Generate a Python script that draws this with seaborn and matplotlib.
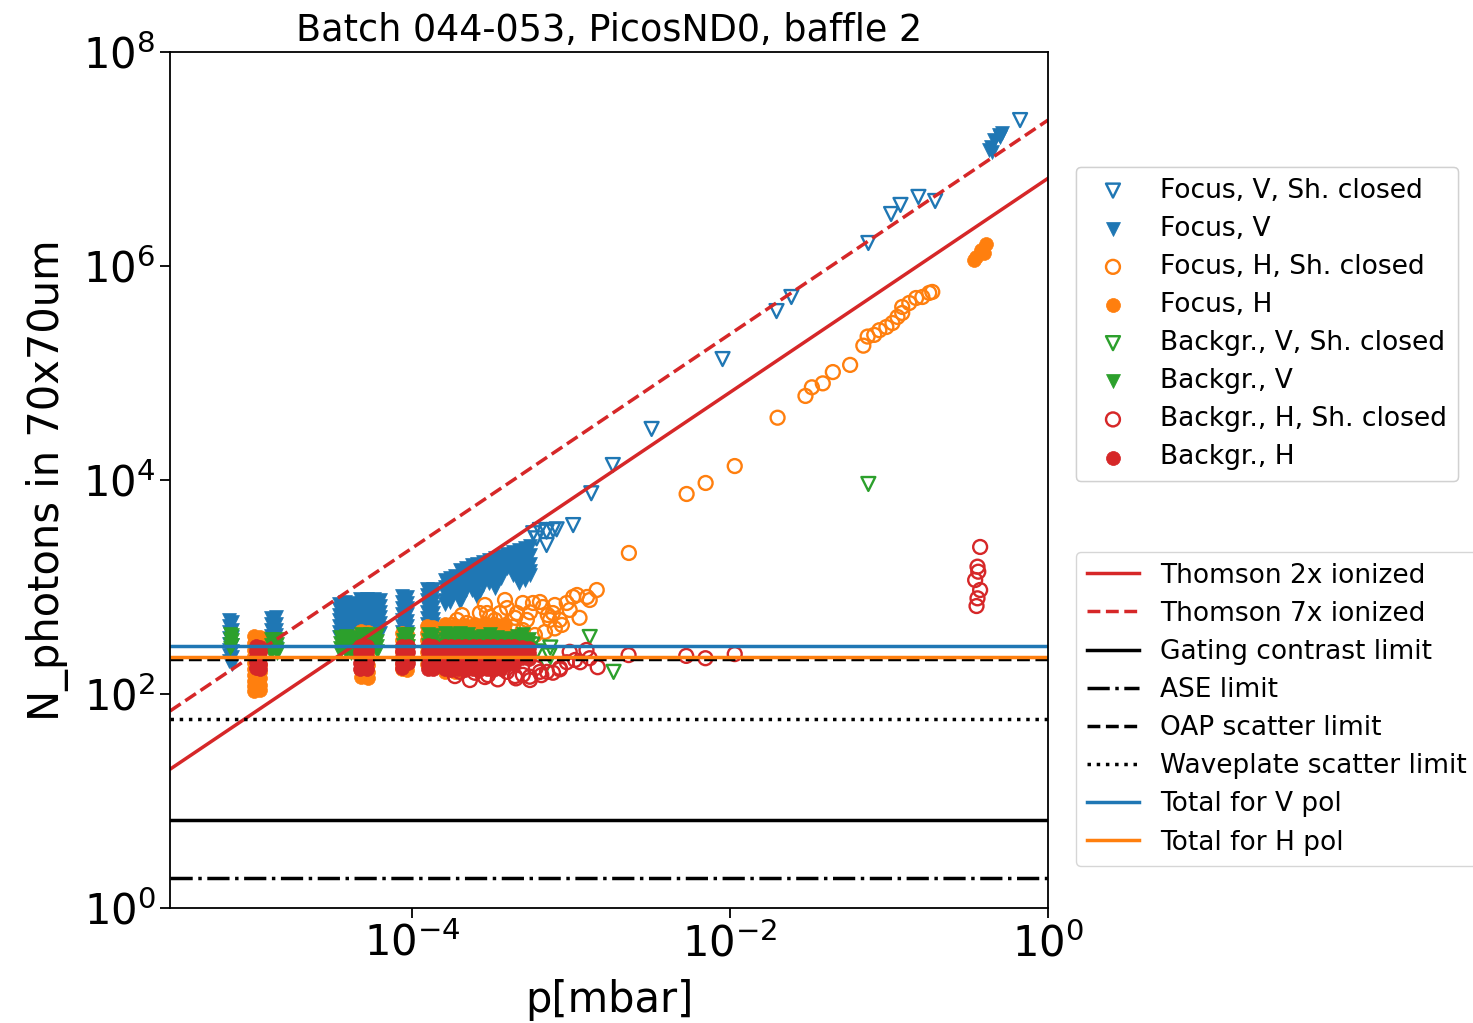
import numpy as np
import pandas as pd
import matplotlib
matplotlib.use("Agg")
import matplotlib.pyplot as plt
from matplotlib.ticker import NullLocator
import seaborn as sns

plt.rcParams['font.family'] = ['DejaVu Sans']

# ---------------- data ----------------
# dense clusters: (pressure [mbar], [N_photons ...])
focus_v_cols = [
    (7.1e-6, [490, 430, 380, 335, 295, 260, 230, 205]),
    (7.4e-6, [470, 400, 340, 290, 250, 220, 190]),
    (1.30e-5, [510, 450, 400, 350, 310, 270]),
    (1.40e-5, [520, 455, 400, 355, 310, 270]),
    (3.45e-5, [700, 620, 550, 490, 430, 380, 340]),
    (3.80e-5, [720, 640, 560, 495, 435, 385, 340]),
    (4.15e-5, [710, 630, 555, 490, 430, 380, 340]),
    (4.7e-5, [780, 690, 610, 540, 480, 420, 370]),
    (5.2e-5, [780, 690, 610, 540, 480, 420, 370]),
    (5.8e-5, [770, 680, 600, 530, 470, 415, 370]),
    (6.3e-5, [760, 670, 590, 520, 460, 410, 370]),
    (8.7e-5, [820, 720, 640, 560, 490, 430, 380]),
    (9.3e-5, [810, 710, 630, 555, 485, 430, 380]),
    (1.24e-4, [960, 850, 750, 660, 580, 510, 450]),
    (1.36e-4, [950, 840, 740, 650, 575, 505, 450]),
    (1.61e-4, [1160, 1000, 870, 760, 690]),
    (1.73e-4, [1210, 1050, 910, 800, 720]),
    (1.86e-4, [1260, 1080, 930]),
    (2.00e-4, [1450, 1250, 1080, 930, 800, 720]),
    (2.18e-4, [1520, 1300, 1100, 930]),
    (2.38e-4, [1600, 1370, 1170, 1000, 930]),
    (2.56e-4, [1650, 1400, 1200, 1000, 850, 800]),
    (2.79e-4, [1730, 1480, 1260, 1100, 1040]),
    (3.04e-4, [1790, 1500, 1280, 1090]),
    (3.32e-4, [1850, 1580, 1350, 1150, 980]),
    (3.62e-4, [1950, 1650, 1400, 1210]),
    (3.95e-4, [2030, 1720, 1500]),
    (4.31e-4, [2120, 1800, 1500, 1290]),
    (4.70e-4, [2220, 1850, 1550, 1300, 1100]),
    (5.13e-4, [2330, 1950, 1600, 1350, 1160]),
    (5.51e-4, [2420, 2000, 1650, 1400, 1290]),
    (0.427, [1.21e7]), (0.439, [1.29e7]), (0.445, [1.16e7]), (0.458, [1.50e7]),
    (0.490, [1.67e7]), (0.514, [1.75e7]), (0.500, [1.60e7]),
]

focus_h_cols = [
    (1.02e-5, [350, 300, 260, 225, 195, 170, 150, 132, 118, 106]),
    (1.10e-5, [340, 290, 250, 215, 185, 160, 140, 122, 110]),
    (4.8e-5, [390, 340, 295, 255, 220, 190, 165, 145]),
    (5.3e-5, [380, 330, 290, 250, 215, 185, 160, 140]),
    (8.7e-5, [370, 320, 280, 245, 215, 190, 170]),
    (9.3e-5, [365, 315, 275, 240, 210, 185, 168]),
    (1.24e-4, [430, 370, 320, 280, 245, 215, 190]),
    (1.36e-4, [425, 365, 315, 275, 240, 210, 185]),
    (1.61e-4, [450, 390, 340, 290, 250, 215, 185, 160]),
    (1.86e-4, [440, 385, 335, 290, 250, 215, 185, 160]),
    (2.15e-4, [445, 390, 340, 290, 250, 215, 185]),
    (2.49e-4, [450, 395, 340, 290, 250, 215, 185]),
    (2.87e-4, [460, 400, 345, 295, 250, 215, 185]),
    (3.32e-4, [455, 395, 340, 290, 250, 215, 185]),
    (3.84e-4, [450, 390, 335, 290, 250, 215]),
    (0.343, [1.13e6]), (0.353, [1.21e6]), (0.378, [1.42e6]),
    (0.395, [1.33e6]), (0.410, [1.60e6]),
]

backgr_v_cols = [
    (7.2e-6, [360, 325, 295, 270]),
    (7.4e-6, [355, 320, 290]),
    (1.30e-5, [325, 290, 260, 240]),
    (1.42e-5, [330, 295, 265, 240]),
    (3.50e-5, [340, 300, 270, 245]),
    (3.85e-5, [345, 305, 270, 245]),
    (4.15e-5, [340, 300, 265, 240]),
    (4.8e-5, [365, 320, 285, 255]),
    (5.4e-5, [360, 320, 285, 255]),
    (6.0e-5, [355, 315, 280, 250]),
    (8.8e-5, [365, 320, 285, 255]),
    (9.4e-5, [360, 315, 280, 250]),
    (1.26e-4, [365, 320, 285, 255]),
    (1.36e-4, [355, 315, 280]),
    (1.6e-4, [370, 330, 295, 270]),
    (1.8e-4, [360, 320, 290]),
    (2.0e-4, [370, 330, 295, 270]),
    (2.25e-4, [365, 325, 290]),
    (2.5e-4, [340, 305, 275]),
    (2.8e-4, [345, 310, 280]),
    (3.1e-4, [360, 320, 290]),
    (3.4e-4, [340, 305, 275]),
    (3.8e-4, [335, 300, 270]),
    (4.2e-4, [330, 300, 270]),
    (4.6e-4, [350, 315, 285]),
    (5.0e-4, [360, 320, 285]),
    (5.4e-4, [330, 300, 270]),
]

backgr_h_cols = [
    (1.04e-5, [282, 250, 222, 197, 175]),
    (1.10e-5, [275, 245, 215, 190, 172]),
    (4.7e-5, [280, 248, 220, 195, 172]),
    (5.2e-5, [282, 250, 220, 195, 172]),
    (8.7e-5, [282, 250, 220, 195, 175]),
    (9.4e-5, [280, 248, 218, 193]),
    (1.25e-4, [285, 250, 220, 192, 170]),
    (1.36e-4, [280, 248, 218, 192, 172]),
    (1.60e-4, [282, 250, 220, 192, 170]),
    (1.75e-4, [280, 248, 218, 190, 168]),
    (1.95e-4, [282, 250, 220, 192, 170]),
    (2.15e-4, [280, 248, 218, 190, 168]),
    (2.40e-4, [282, 250, 220, 192, 170]),
    (2.65e-4, [280, 248, 218, 190, 168]),
    (2.95e-4, [282, 250, 220, 192, 170]),
    (3.25e-4, [280, 248, 218, 190, 168]),
    (3.60e-4, [282, 250, 220, 192, 170]),
    (4.00e-4, [280, 248, 218, 190]),
    (4.40e-4, [278, 245, 215, 190]),
    (4.90e-4, [275, 245, 215]),
    (5.40e-4, [270, 240, 212]),
]

# sparse series (shutter closed)
focus_v_closed_p = [5.78e-4, 6.37e-4, 7.01e-4, 7.71e-4, 8.11e-4, 7.01e-4, 6.07e-4,
                    1.03e-3, 1.34e-3, 1.83e-3, 3.21e-3, 8.97e-3, 1.96e-2, 2.43e-2,
                    7.41e-2, 0.103, 0.118, 0.153, 0.195, 0.667]
focus_v_closed_n = [3180, 3410, 3290, 3410, 3460, 2470, 2850,
                    3790, 7520, 13800, 30000, 1.35e5, 3.79e5, 5.13e5,
                    1.64e6, 3.06e6, 3.72e6, 4.42e6, 4.05e6, 2.31e7]

focus_h_closed_p = [1.92e-4, 2.21e-4, 2.67e-4, 3.09e-4, 3.42e-4, 3.96e-4, 4.31e-4,
                    4.97e-4, 5.27e-4, 4.97e-4, 6.37e-4, 6.65e-4, 7.36e-4, 7.68e-4,
                    8.49e-4, 9.39e-4, 1.09e-3, 1.26e-3, 1.45e-3, 3.57e-4, 2.96e-4,
                    4.57e-4, 5.76e-4, 1.03e-3, 6.85e-4, 7.9e-4,
                    1.61e-4, 1.78e-4, 2.06e-4, 2.38e-4, 2.87e-4, 3.32e-4, 3.84e-4,
                    4.44e-4, 4.77e-4, 5.51e-4, 5.92e-4, 7.14e-4, 7.91e-4, 8.75e-4,
                    9.8e-4, 1.13e-3, 1.31e-3,
                    2.31e-3, 5.33e-3, 7.02e-3, 1.07e-2, 1.99e-2, 2.98e-2, 3.27e-2,
                    3.83e-2, 4.43e-2, 5.69e-2, 6.89e-2, 7.33e-2,
                    8.07e-2, 8.69e-2, 9.62e-2, 0.105, 0.113, 0.121, 0.121, 0.134,
                    0.148, 0.162, 0.179, 0.187]
focus_h_closed_n = [492, 461, 571, 525, 396, 636, 423,
                    709, 492, 396, 724, 650, 492, 571,
                    492, 709, 842, 807, 937, 571, 571,
                    571, 709, 807, 380, 410,
                    396, 442, 547, 417, 679, 492, 756,
                    515, 320, 580, 356, 547, 679, 442,
                    610, 515, 756,
                    2080, 7400, 9380, 13500, 3.82e4, 6.1e4, 7.35e4,
                    8.0e4, 1.02e5, 1.19e5, 1.8e5, 2.19e5,
                    2.27e5, 2.51e5, 2.69e5, 2.93e5, 3.34e5, 3.64e5, 4.14e5, 4.51e5,
                    5.02e5, 5.13e5, 5.6e5, 5.72e5]

backgr_v_closed_p = [1.31e-3, 1.85e-3, 7.41e-2, 6.1e-4, 7.0e-4, 7.4e-4, 7.3e-4, 5.7e-4]
backgr_v_closed_n = [341, 161, 9180, 250, 187, 272, 230, 290]

backgr_h_closed_p = [2.0e-4, 2.48e-4, 3.46e-4, 3.95e-4, 4.97e-4, 7.05e-4, 7.69e-4,
                     9.4e-4, 1.14e-3, 1.47e-3, 9.8e-4, 1.25e-3, 6.0e-4, 6.5e-4,
                     5.5e-4, 8.5e-4, 3.0e-4, 4.5e-4,
                     1.86e-4, 2.31e-4, 2.87e-4, 4.44e-4, 5.51e-4, 6.37e-4, 8.5e-4,
                     1.06e-3, 1.31e-3,
                     2.3e-3, 5.3e-3, 7.0e-3, 1.07e-2,
                     0.374, 0.360, 0.364, 0.348, 0.374, 0.360, 0.355]
backgr_h_closed_n = [161, 158, 137, 161, 151, 161, 158,
                     198, 198, 178, 248, 258, 175, 150,
                     145, 170, 150, 140,
                     147, 135, 144, 147, 135, 161, 175,
                     208, 216,
                     231, 227, 216, 236,
                     2366, 1549, 1390, 1162, 937, 784, 664]

# model lines
thomson_p = [3.0e-6, 1.0]
thomson_2x = [19.8, 6.6e6]
thomson_7x = [69.3, 2.31e7]

limit_names = ["Gating contrast limit", "ASE limit", "OAP scatter limit",
               "Waveplate scatter limit", "Total for V pol", "Total for H pol"]
limit_values = [6.6, 1.9, 212, 58.4, 280, 221]

title = "Batch 044-053, PicosND0, baffle 2"

# ---------------- helpers ----------------
def cols_df(cols):
    return pd.DataFrame([(p, n) for p, ns in cols for n in ns], columns=["p", "N"])

def pts_df(p, n):
    return pd.DataFrame({"p": p, "N": n})

C0, C1, C2, C3 = "#1f77b4", "#ff7f0e", "#2ca02c", "#d62728"

fig = plt.figure(figsize=(14.73, 10.23), dpi=100)
ax = fig.add_axes([0.1154, 0.1124, 0.7115 - 0.1154, 0.9492 - 0.1124])
ax.set_xscale("log")
ax.set_yscale("log")

S = 100
series = [
    ("Focus, V, Sh. closed", pts_df(focus_v_closed_p, focus_v_closed_n), "v", C0, False),
    ("Focus, V", cols_df(focus_v_cols), "v", C0, True),
    ("Focus, H, Sh. closed", pts_df(focus_h_closed_p, focus_h_closed_n), "o", C1, False),
    ("Focus, H", cols_df(focus_h_cols), "o", C1, True),
    ("Backgr., V, Sh. closed", pts_df(backgr_v_closed_p, backgr_v_closed_n), "v", C2, False),
    ("Backgr., V", cols_df(backgr_v_cols), "v", C2, True),
    ("Backgr., H, Sh. closed", pts_df(backgr_h_closed_p, backgr_h_closed_n), "o", C3, False),
    ("Backgr., H", cols_df(backgr_h_cols), "o", C3, True),
]
for label, df, mk, col, filled in series:
    if filled:
        sns.scatterplot(data=df, x="p", y="N", marker=mk, s=S, color=col,
                        edgecolor=col, linewidth=0.5, label=label, ax=ax, legend=False)
    else:
        sns.scatterplot(data=df, x="p", y="N", marker=mk, s=S, facecolor="none",
                        edgecolor=col, linewidth=1.7, label=label, ax=ax, legend=False)

h_sc, l_sc = ax.get_legend_handles_labels()

lw = 2.5
sns.lineplot(x=thomson_p, y=thomson_2x, color=C3, lw=lw, label="Thomson 2x ionized", ax=ax, legend=False)
sns.lineplot(x=thomson_p, y=thomson_7x, color=C3, lw=lw, ls="--", label="Thomson 7x ionized", ax=ax, legend=False)
styles = [("-", "k"), ("-.", "k"), ("--", "k"), (":", "k"), ("-", C0), ("-", C1)]
for name, val, (ls, col) in zip(limit_names, limit_values, styles):
    ax.axhline(val, color=col, ls=ls, lw=lw, label=name)

h_all, l_all = ax.get_legend_handles_labels()
h_ln = [h for h, l in zip(h_all, l_all) if l not in l_sc]
l_ln = [l for l in l_all if l not in l_sc]

ax.set_xlim(3.0e-6, 1.0)
ax.set_ylim(1, 1e8)
ax.set_xticks([1e-4, 1e-2, 1e0])
ax.set_yticks([1e0, 1e2, 1e4, 1e6, 1e8])
ax.xaxis.set_minor_locator(NullLocator())
ax.yaxis.set_minor_locator(NullLocator())
ax.tick_params(labelsize=30, length=7, width=1.3)
for sp in ax.spines.values():
    sp.set_linewidth(1.3)

ax.set_xlabel("p[mbar]", fontsize=30, labelpad=10)
ax.set_ylabel("N_photons in 70x70um", fontsize=30, labelpad=10)
ax.set_title(title, fontsize=26.3, pad=8)

leg1 = fig.legend(h_sc, l_sc, loc="upper left", bbox_to_anchor=(0.7305, 0.8368),
                  bbox_transform=fig.transFigure, borderaxespad=0, fontsize=19,
                  labelspacing=0.46)
fig.add_artist(leg1)
leg2 = fig.legend(h_ln, l_ln, loc="upper left", bbox_to_anchor=(0.7305, 0.4604),
                  bbox_transform=fig.transFigure, borderaxespad=0, fontsize=19,
                  labelspacing=0.46)

fig.savefig("out.png", dpi=100)
